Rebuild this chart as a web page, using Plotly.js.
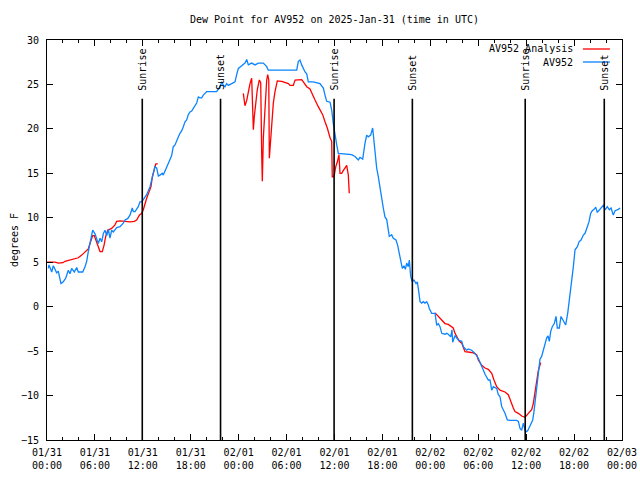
<!DOCTYPE html>
<html><head><meta charset="utf-8">
<script src="https://cdn.plot.ly/plotly-3.0.1.min.js"></script>
<style>html,body{margin:0;padding:0;background:#fff}#chart{width:640px;height:480px}</style>
</head><body><div id="chart"></div>
<script>
// hours since 2025-01-31 00:00 UTC
const blueHours = [
0.16,0.25,0.59,0.79,1.21,1.41,1.75,2.04,2.34,2.67,
2.88,3.09,3.42,3.72,3.92,4.47,4.76,4.97,5.17,5.51,
5.72,6.01,6.22,6.42,6.64,6.85,7.05,7.26,7.48,7.68,
7.89,8.10,8.30,8.51,8.73,9.14,9.55,9.77,10.10,10.39,
10.68,10.81,11.02,11.43,11.64,11.86,12.18,12.48,12.90,13.11,
13.31,13.52,13.74,13.94,14.15,14.44,14.56,14.78,14.99,15.28,
15.61,15.81,16.03,16.24,16.44,16.65,16.87,17.07,17.28,17.49,
17.69,17.91,18.12,18.32,18.53,18.74,18.95,19.16,19.37,19.57,
20.00,20.41,20.82,21.25,21.66,21.88,22.08,22.29,22.50,22.70,
23.13,23.54,23.75,23.96,24.38,24.79,25.01,25.21,25.63,26.05,
26.46,27.09,27.51,27.71,31.27,31.47,31.68,31.89,32.31,32.52,
32.72,33.35,34.18,34.60,34.81,35.02,35.44,35.65,35.85,36.06,
36.28,36.48,36.90,37.53,38.15,38.57,38.98,39.19,39.53,39.82,
40.03,40.23,40.53,40.78,41.07,41.28,41.49,41.70,41.91,42.11,
42.32,42.54,42.66,42.86,43.16,43.36,43.70,43.91,44.11,44.29,
44.49,44.70,44.87,45.04,45.24,45.37,45.54,45.74,45.95,46.21,
46.37,46.58,46.71,46.92,47.12,47.33,47.55,47.75,47.87,48.17,
48.59,48.80,49.00,49.21,49.43,49.84,50.05,50.25,50.55,50.71,
50.80,51.09,51.50,51.93,52.13,52.55,52.75,53.18,53.59,54.01,
54.22,54.63,54.85,55.26,55.47,55.69,55.89,56.31,56.51,56.72,
56.94,57.35,57.64,57.98,58.82,59.02,59.23,59.44,59.65,59.86,
60.07,60.23,60.48,60.82,60.98,61.32,61.52,61.73,61.94,62.15,
62.36,62.57,62.74,62.90,63.07,63.27,63.52,63.74,63.90,64.15,
64.36,64.65,64.95,65.20,65.37,65.58,65.78,65.91,66.12,66.41,
66.62,66.87,67.16,67.37,67.66,67.87,68.08,68.28,68.50,68.71,
68.91,69.16,69.46,69.66,69.88,70.16,70.41,70.63,70.91,71.13,
71.54,71.76
];
const blueValues = [
4.3,4.7,3.9,4.6,3.8,4.0,2.6,2.8,3.2,4.1,
3.7,4.3,3.9,4.4,3.9,3.9,4.5,5.1,6.2,7.5,
8.6,8.2,7.5,7.1,7.7,7.3,8.2,8.6,8.0,8.7,
7.7,8.6,8.4,8.6,8.9,9.0,9.4,9.75,9.9,10.3,
11.1,10.7,10.7,11.25,11.8,11.8,12.2,12.6,13.5,14.3,
15.0,15.75,15.6,14.7,14.8,15.0,14.8,15.2,15.75,16.3,
17.0,18.0,18.2,18.75,19.1,19.5,19.8,20.25,20.8,21.0,
21.6,21.9,22.0,22.3,22.6,22.9,23.6,23.5,23.5,23.8,
24.2,24.2,24.2,24.2,24.75,25.3,24.9,24.75,25.1,24.9,
25.1,25.3,26.1,26.8,27.1,27.4,27.8,27.2,27.4,27.2,
27.4,27.4,27.0,26.6,26.6,27.6,27.75,27.2,26.4,26.2,
25.3,25.3,25.1,24.6,23.8,23.1,23.0,22.1,20.6,19.1,
18.2,17.25,17.2,17.2,17.1,16.9,16.5,16.8,16.6,18.4,
19.3,19.1,19.3,20.1,17.4,15.6,14.6,13.1,12.2,11.1,
10.1,9.8,8.8,7.9,8.1,7.7,7.5,6.9,6.0,5.25,
4.3,4.6,4.2,4.9,4.5,5.25,3.4,2.8,3.0,2.6,
2.8,1.5,0.56,0.4,0.56,0.4,0.56,0.2,-0.2,-0.75,
-0.75,-2.1,-1.9,-2.25,-3.0,-3.1,-3.0,-3.1,-3.4,-2.6,
-4.0,-3.25,-3.75,-3.9,-4.5,-4.9,-4.75,-4.9,-5.25,-5.8,
-6.3,-7.3,-7.6,-8.25,-8.25,-9.4,-9.0,-9.2,-9.9,-10.1,
-11.25,-12.0,-12.75,-12.8,-12.8,-12.9,-13.7,-13.9,-13.1,-13.95,
-14.06,-13.9,-13.4,-12.75,-11.8,-9.0,-7.2,-5.9,-5.6,-4.9,
-4.2,-3.5,-3.3,-3.9,-2.8,-2.25,-1.9,-1.1,-2.4,-2.4,
-1.1,-1.5,-2.06,-0.75,0.56,1.9,3.0,4.5,6.4,6.75,
7.3,7.5,8.06,8.25,9.0,9.56,10.5,10.8,10.95,11.2,
10.6,10.9,11.25,11.4,10.9,11.25,10.9,11.1,10.3,10.8,
10.95,11.1
];
const redHours = [
0,1.0,1.41,2.0,2.25,2.67,3.29,3.92,4.35,4.76,
5.17,5.38,5.72,5.92,6.22,6.42,6.64,6.92,7.14,7.35,
7.60,8.10,8.51,8.73,9.14,9.77,10.39,10.93,11.23,11.56,
11.86,12.06,12.27,12.48,12.77,13.02,13.19,13.40,13.61,13.86,
19.0,
24.58,24.79,25.01,25.21,25.42,25.63,25.76,25.84,25.96,26.17,
26.33,26.59,26.76,26.89,26.96,27.09,27.30,27.51,27.64,27.77,
27.84,28.02,28.18,28.34,28.55,28.84,29.39,29.80,30.22,30.43,
30.84,31.06,31.89,32.10,32.52,32.93,33.15,33.56,33.97,34.27,
34.52,34.81,35.10,35.44,35.65,35.72,35.85,35.98,36.16,36.36,
36.56,36.69,36.90,37.10,37.53,37.73,37.85,
43.0,
48.59,48.90,49.21,49.43,49.84,50.25,50.67,50.87,51.09,51.30,
51.63,51.93,52.34,52.75,53.38,53.80,54.01,54.43,54.85,55.26,
55.69,55.97,56.31,56.72,57.35,57.76,58.06,58.39,58.60,59.02,
59.44,59.86,60.27,60.69,60.89,61.10,61.32,61.52,61.82
];
const redValues = [
5.0,5.0,4.9,4.95,5.1,5.2,5.3,5.5,5.8,6.2,
6.5,7.1,8.0,8.0,7.3,6.75,6.2,6.2,6.9,7.9,
8.6,8.8,9.2,9.6,9.65,9.6,9.55,9.6,9.75,10.3,
10.5,10.9,11.6,12.2,12.9,13.5,14.6,15.4,16.05,16.1,
null,
24.0,22.6,23.2,24.3,25.1,25.7,22.1,19.9,21.4,23.25,
24.4,25.5,25.2,16.9,14.1,19.0,22.3,25.5,26.1,25.5,
16.7,18.8,20.5,22.9,24.2,25.4,25.35,25.2,25.1,24.9,
24.9,25.5,25.55,25.3,24.75,24.5,24.0,23.25,22.5,21.95,
21.6,20.8,20.1,19.0,18.6,14.6,14.6,14.8,15.75,16.3,
17.1,15.0,15.0,15.3,15.9,14.8,12.75,
null,
-0.7,-1.0,-1.3,-1.5,-1.9,-2.0,-2.25,-2.4,-3.0,-3.4,
-3.9,-4.1,-5.06,-5.1,-5.2,-5.4,-6.0,-6.6,-6.9,-7.05,
-7.5,-8.25,-9.0,-9.4,-9.6,-9.9,-10.7,-11.4,-11.8,-12.0,
-12.3,-12.45,-12.0,-11.6,-10.9,-9.75,-8.25,-7.2,-6.3
];
const sunriseHours = [11.93, 35.95, 59.88];
const sunsetHours = [21.73, 45.75, 69.78];
const tickHours = [0,6,12,18,24,30,36,42,48,54,60,66,72];
const tickLabels = ['01/31<br>00:00','01/31<br>06:00','01/31<br>12:00','01/31<br>18:00',
 '02/01<br>00:00','02/01<br>06:00','02/01<br>12:00','02/01<br>18:00',
 '02/02<br>00:00','02/02<br>06:00','02/02<br>12:00','02/02<br>18:00','02/03<br>00:00'];
const seriesNames = ['AV952 Analysis', 'AV952'];
const seriesColors = ['#ff0000', '#0a84ff'];

const BASE = Date.UTC(2025, 0, 31);
function toDate(h) {
  return new Date(BASE + h * 3600000).toISOString().replace('T', ' ').slice(0, 19);
}
const FONT = 'DejaVu Sans Mono, Liberation Mono, monospace';

const traces = [
  {x: redHours.map(toDate), y: redValues, type: 'scatter', mode: 'lines', name: seriesNames[0],
   line: {color: seriesColors[0], width: 1.3}, connectgaps: false},
  {x: blueHours.map(toDate), y: blueValues, type: 'scatter', mode: 'lines', name: seriesNames[1],
   line: {color: seriesColors[1], width: 1.3}}
];

const shapes = [];
const annotations = [];
const events = sunriseHours.map(h => ['Sunrise', h]).concat(sunsetHours.map(h => ['Sunset', h]));
events.forEach(([label, h]) => {
  shapes.push({type: 'line', xref: 'x', yref: 'y', x0: toDate(h), x1: toDate(h), y0: -15, y1: 23.4,
    line: {color: '#000', width: 1.6}, layer: 'above'});
  annotations.push({xref: 'x', yref: 'y', x: toDate(h), y: 24.1, text: label, textangle: -90,
    showarrow: false, xanchor: 'center', yanchor: 'bottom', font: {family: FONT, size: 10, color: '#000'}});
});
// legend (gnuplot style: text then sample)
const legY = [0.9775, 0.945];
seriesNames.forEach((n, i) => {
  annotations.push({xref: 'paper', yref: 'paper', x: 0.9183, y: legY[i], text: n, showarrow: false,
    xanchor: 'right', yanchor: 'middle', font: {family: FONT, size: 10, color: '#000'}});
  shapes.push({type: 'line', xref: 'paper', yref: 'paper', x0: 0.932, x1: 0.979, y0: legY[i], y1: legY[i],
    line: {color: seriesColors[i], width: 1.3}});
});

const layout = {
  width: 640, height: 480,
  margin: {l: 47, r: 18, t: 40, b: 40, pad: 0},
  paper_bgcolor: '#fff', plot_bgcolor: '#fff',
  font: {family: FONT, size: 10, color: '#000'},
  showlegend: false,
  title: {text: 'Dew Point for AV952 on 2025-Jan-31 (time in UTC)', x: 0.5, xref: 'paper',
    y: 0.96, yref: 'container', yanchor: 'middle', font: {family: FONT, size: 10, color: '#000'}},
  xaxis: {type: 'date', range: [toDate(0), toDate(72)], tickvals: tickHours.map(toDate), ticktext: tickLabels,
    ticks: 'inside', ticklen: 6, tickcolor: '#000', tickwidth: 1, showline: true, linecolor: '#000', linewidth: 1,
    mirror: 'ticks', showgrid: false, zeroline: false, tickangle: 0, ticklabelstandoff: 3,
    minor: {dtick: 7200000, ticks: 'inside', ticklen: 3, tickcolor: '#000', showgrid: false},
    tickfont: {family: FONT, size: 10, color: '#000'}},
  yaxis: {range: [-15, 30], tick0: 0, dtick: 5, ticks: 'inside', ticklen: 6, tickcolor: '#000',
    showline: true, linecolor: '#000', linewidth: 1, mirror: 'ticks', showgrid: false, zeroline: false,
    ticklabelstandoff: 5,
    tickfont: {family: FONT, size: 10, color: '#000'},
    title: {text: 'degrees F', standoff: 0, font: {family: FONT, size: 10, color: '#000'}}},
  shapes: shapes,
  annotations: annotations
};
Plotly.newPlot('chart', traces, layout, {staticPlot: true, displayModeBar: false});
</script>
</body></html>
